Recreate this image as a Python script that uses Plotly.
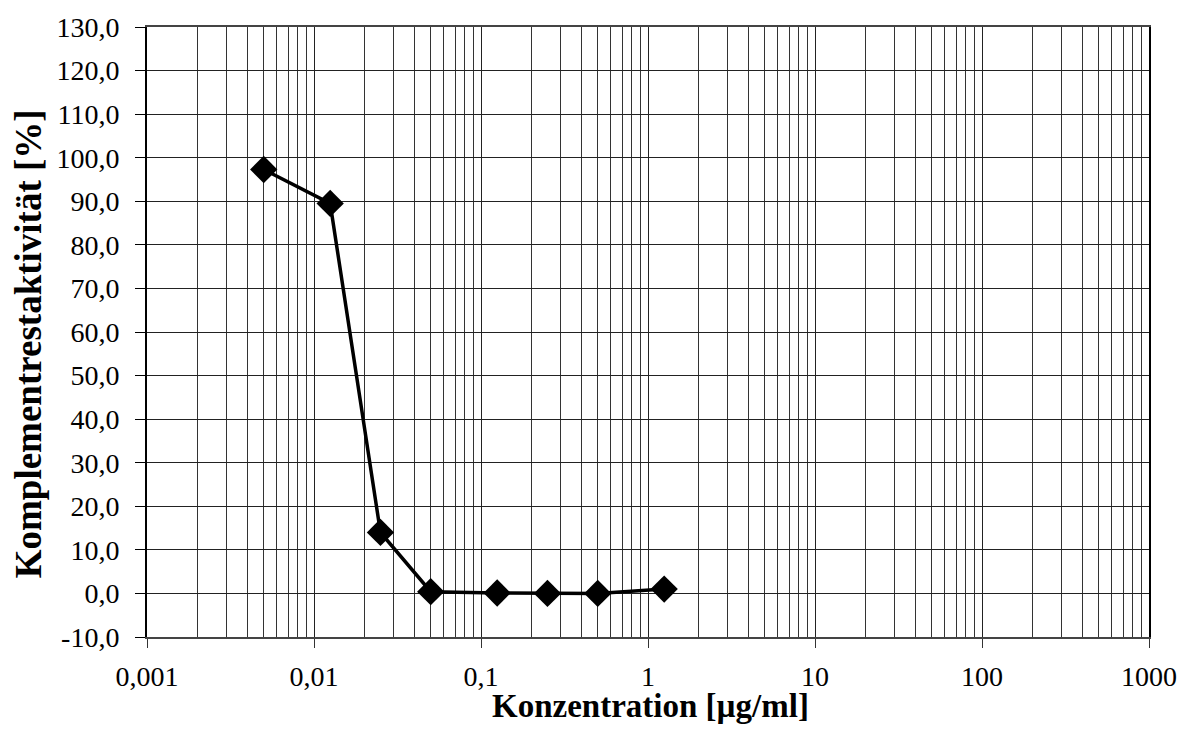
import plotly.graph_objects as go

# Data
konzentration = [0.005, 0.0125, 0.025, 0.05, 0.125, 0.25, 0.5, 1.25]
aktivitaet = [97.3, 89.5, 14.0, 0.4, 0.1, 0.0, 0.0, 1.0]

x_tickvals = [0.001, 0.01, 0.1, 1, 10, 100, 1000]
x_ticktext = ["0,001", "0,01", "0,1", "1", "10", "100", "1000"]
y_tickvals = list(range(-10, 131, 10))
y_ticktext = [f"{v:.1f}".replace(".", ",") for v in y_tickvals]
x_minorvals = [m * d for d in [0.001, 0.01, 0.1, 1, 10, 100] for m in range(2, 10)]

font_family = "Liberation Serif"

fig = go.Figure()
fig.add_trace(go.Scatter(
    x=konzentration, y=aktivitaet, mode="lines+markers",
    line=dict(color="black", width=3.5),
    marker=dict(symbol="diamond", size=21, color="black"),
    showlegend=False, cliponaxis=False,
))

fig.update_layout(
    width=1189, height=731,
    margin=dict(l=147, r=37, t=23, b=94),
    paper_bgcolor="white", plot_bgcolor="white",
    font=dict(family=font_family, color="black", size=27),
    xaxis=dict(
        type="log", range=[-3, 3],
        tickmode="array", tickvals=x_tickvals, ticktext=x_ticktext,
        ticks="outside", ticklen=9, tickcolor="#333", tickwidth=1,
        ticklabelstandoff=4,
        showgrid=True, gridcolor="#222", gridwidth=1,
        minor=dict(tickmode="array", tickvals=x_minorvals, showgrid=True,
                   gridcolor="#333", gridwidth=1, ticks=""),
        showline=True, linecolor="#444", linewidth=2, mirror=True,
        zeroline=False,
        tickfont=dict(size=28, family=font_family),
    ),
    yaxis=dict(
        range=[-10, 130],
        tickmode="array", tickvals=y_tickvals, ticktext=y_ticktext,
        ticks="outside", ticklen=10, tickcolor="black", tickwidth=1,
        ticklabelstandoff=10,
        showgrid=True, gridcolor="#222", gridwidth=1,
        showline=True, linecolor="black", linewidth=2, mirror=True,
        zeroline=False,
        tickfont=dict(size=28, family=font_family),
    ),
    annotations=[
        dict(text="<b>Konzentration [µg/ml]</b>", xref="paper", yref="paper",
             x=(652 - 147) / 1005, y=-(706 - 637) / 614, xanchor="center", yanchor="middle",
             showarrow=False,
             font=dict(size=33, family=font_family, color="black")),
        dict(text="<b>Komplementrestaktivität [%]</b>", xref="paper", yref="paper",
             x=-(147 - 29) / 1005, y=(637 - 342) / 614, xanchor="center", yanchor="middle",
             showarrow=False, textangle=-90,
             font=dict(size=37, family=font_family, color="black")),
    ],
)

fig.write_html("out.html", config={"displayModeBar": False},
               post_script="document.body.style.margin='0px';")
